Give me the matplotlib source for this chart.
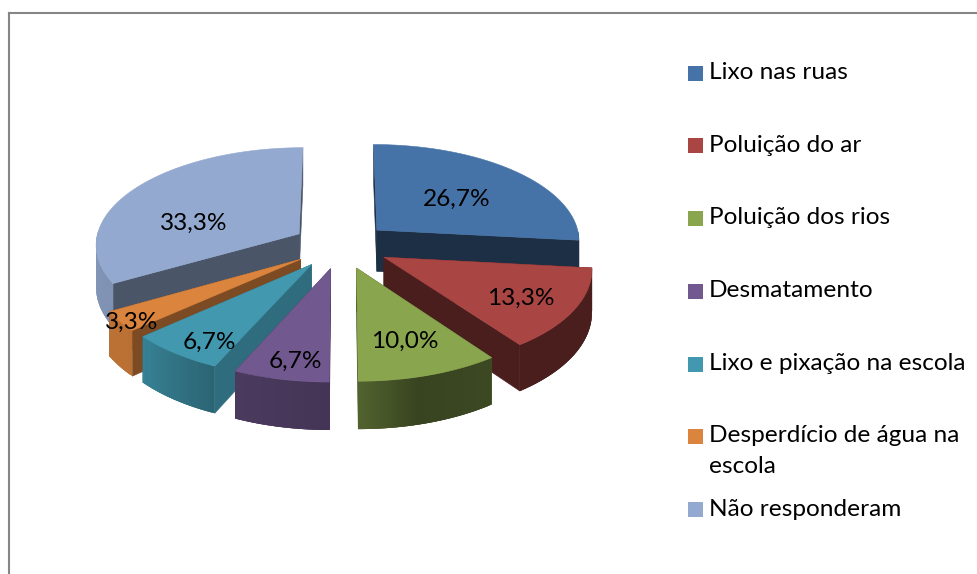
import numpy as np
import matplotlib
matplotlib.use("Agg")
import matplotlib.pyplot as plt
from matplotlib.patches import Rectangle, Polygon
from matplotlib.lines import Line2D
from matplotlib.colors import to_rgb

# ---- data ----
categories = ["Lixo nas ruas", "Poluição do ar", "Poluição dos rios", "Desmatamento",
              "Lixo e pixação na escola", "Desperdício de água na\nescola", "Não responderam"]
values = [26.7, 13.3, 10.0, 6.7, 6.7, 3.3, 33.3]
value_labels = ["26,7%", "13,3%", "10,0%", "6,7%", "6,7%", "3,3%", "33,3%"]
colors = ["#4673a7", "#a94543", "#89a54e", "#71588f", "#4198af", "#db843d", "#93a9cf"]

# ---- pseudo-3D geometry (pixels) ----
CX, CY = 341.0, 245.4
RX, RY = 204.0, 97.0
EXPLODE = 0.24
PERSP = 0.10
DEPTH = 42.0
# share of wall brightness along the rim (degrees clockwise from 12 o'clock)
rim_deg = [96, 144, 165, 180, 204, 228, 280]
rim_shade = [.44, .44, .41, .60, .66, .85, .90]
cut_shade = [.41, .44, .50, .60, .72, .57, .50]   # shade of each slice's flat cut wall
draw_order = [6, 0, 5, 1, 4, 2, 3]
label_radius = [.56, .73, .68, .82, .82, .95, .55]
label_angle_shift = [0, 0, 0, -1.5, -3, -1, -15]

plt.rcParams["font.family"] = ["Lato", "DejaVu Sans"]
FS = 17.6

fig = plt.figure(figsize=(9.77, 5.74), dpi=100)
ax = fig.add_axes([0, 0, 1, 1])
ax.set_xlim(0, 977)
ax.set_ylim(574, 0)
ax.axis("off")

total = sum(values)
edges = np.concatenate([[0], np.cumsum(values)]) / total * 360.0
mids = (edges[:-1] + edges[1:]) / 2


def project(mid, theta, r=1.0, drop=0.0):
    m, t = np.radians(mid), np.radians(theta)
    u = EXPLODE * np.sin(m) + r * np.sin(t)
    v = EXPLODE * np.cos(m) + r * np.cos(t)
    s = 1.0 / (1.0 + PERSP * v)
    return np.column_stack([CX + RX * u * s, CY - RY * v * s + drop * s])


def shaded(color, f):
    return tuple(np.clip(np.array(to_rgb(color)) * f, 0, 1))


for i in draw_order:
    a0, a1, mid, col = edges[i], edges[i + 1], mids[i], colors[i]
    apex = project(mid, a0, r=0.0)
    apex_low = project(mid, a0, r=0.0, drop=DEPTH)

    # flat cut walls
    for ang in (a1, a0):
        o = project(mid, ang)
        o_low = project(mid, ang, drop=DEPTH)
        ax.add_patch(Polygon(np.vstack([apex, o, o_low, apex_low]), closed=True,
                             facecolor=shaded(col, cut_shade[i]),
                             edgecolor=shaded(col, cut_shade[i]), lw=0.4, zorder=2))

    # rim, front-facing part only, as narrow overlapping shaded strips
    lo, hi = max(a0, 90.0), min(a1, 272.0)
    if hi > lo:
        th = np.linspace(lo, hi, int(hi - lo) * 2 + 2)
        top = project(mid, th)
        low = project(mid, th, drop=DEPTH)
        n = len(th)
        for k in range(n - 1):
            j = min(k + 3, n - 1)
            f = np.interp((th[k] + th[k + 1]) / 2, rim_deg, rim_shade)
            ax.add_patch(Polygon(np.vstack([top[k:j + 1], low[k:j + 1][::-1]]), closed=True,
                                 facecolor=shaded(col, f), edgecolor="none", lw=0, zorder=2))

    # top face
    th = np.linspace(a0, a1, 120)
    ax.add_patch(Polygon(np.vstack([apex, project(mid, th)]), closed=True,
                         facecolor=col, edgecolor=col, lw=0.4, zorder=2))

# data labels
for i, lab in enumerate(value_labels):
    p = project(mids[i], mids[i] + label_angle_shift[i], r=label_radius[i])[0]
    ax.text(p[0], p[1] + 3, lab, fontsize=FS, color="black", ha="center", va="center", zorder=5)

# legend
row_y = [73, 145.5, 218.5, 291, 364.5, 436.5, 509.5]
for y, lab, col in zip(row_y, categories, colors):
    ax.add_patch(Rectangle((688, y - 7.5), 15, 15, facecolor=col, edgecolor="none", zorder=3))
    ax.text(709, y - 11, lab, fontsize=FS, color="black", ha="left", va="top",
            linespacing=1.55, zorder=5)

# chart frame (only top and left fall inside the picture)
frame = "#868686"
ax.add_line(Line2D([9, 9], [574, 12.5], color=frame, lw=1.5, solid_capstyle="projecting"))
ax.add_line(Line2D([9, 977], [12.5, 12.5], color=frame, lw=1.5, solid_capstyle="projecting"))

fig.savefig("out.png", dpi=100, facecolor="white")
